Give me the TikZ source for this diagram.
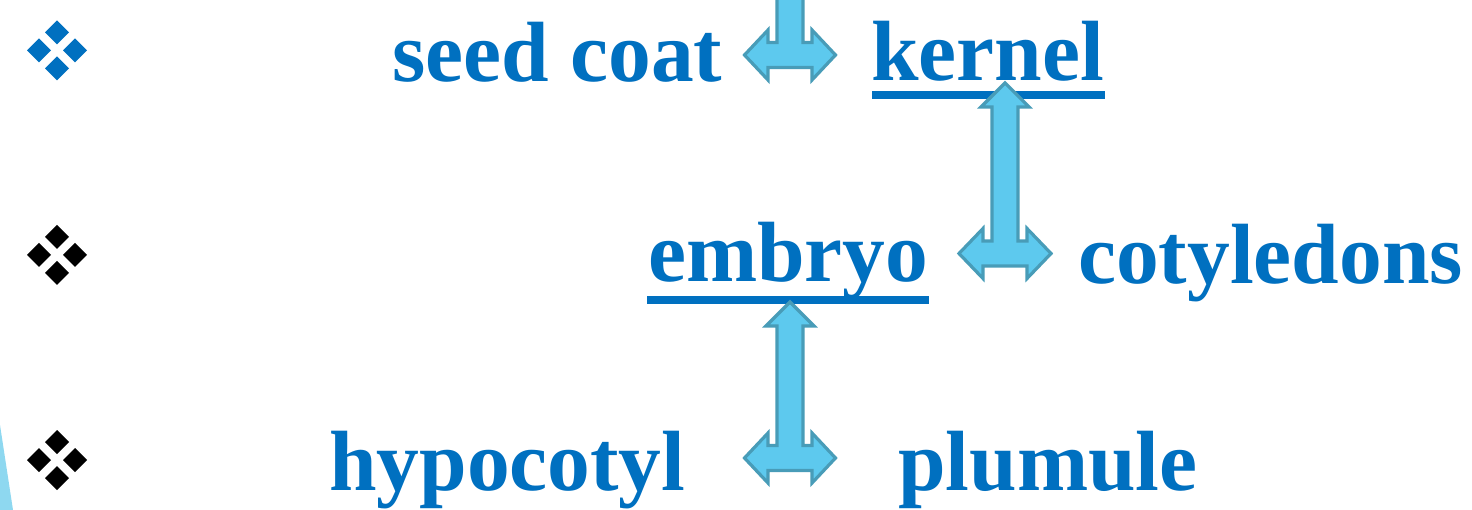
\documentclass[tikz,border=0pt]{standalone}
\usepackage{fontspec}
\setmainfont{Liberation Serif}
\definecolor{txtblue}{RGB}{0,112,192}
\definecolor{arrowfill}{RGB}{93,201,238}
\definecolor{arrowline}{RGB}{72,156,184}
\definecolor{sliver}{RGB}{142,216,240}
% up-left-right block arrow: centre x, bar centre y, tip y, side tip half width
\newcommand\ulrarrow[4]{%
  \draw[blockarrow]
    (#1,#3) -- ++(24,24) -- (#1+13,#3+24) -- (#1+13,#2-12.5)
    -- (#1+22,#2-12.5) -- (#1+22,#2-25) -- (#1+#4,#2)
    -- (#1+22,#2+25) -- (#1+22,#2+12.5) -- (#1-22,#2+12.5)
    -- (#1-22,#2+25) -- (#1-#4,#2) -- (#1-22,#2-25)
    -- (#1-22,#2-12.5) -- (#1-13,#2-12.5) -- (#1-13,#3+24)
    -- (#1-24,#3+24) -- cycle;}
% four-diamond bullet centred at (x,y)
\newcommand\diamondbullet[3]{%
  \foreach \dx/\dy in {0/-18,-18/0,18/0,0/18}
    \fill[#3] (#1+\dx,#2+\dy-12) -- ++(12,12) -- ++(-12,12) -- ++(-12,-12) -- cycle;}
\begin{document}
\begin{tikzpicture}[x=1pt,y=-1pt,
  term/.style={anchor=base west,inner sep=0pt,text=txtblue,
    font=\fontsize{85.5pt}{100pt}\selectfont\bfseries},
  blockarrow/.style={fill=arrowfill,draw=arrowline,line width=3.2pt,line join=miter}]
\useasboundingbox (0,0) rectangle (1472,510);
\clip (0,0) rectangle (1472,510);
\fill[white] (0,0) rectangle (1472,510);
% corner strip
\fill[sliver] (0,425) -- (13,510) -- (0,510) -- cycle;
% bullets
\diamondbullet{57}{50.5}{txtblue}
\diamondbullet{57}{255}{black}
\diamondbullet{57}{460}{black}
% words
\node[term] (seedcoat) at (392,82) {seed coat};
\node[term] (kernel) at (871,81) {kernel};
\node[term] (embryo) at (648,282) {embryo};
\node[term] (cotyledons) at (1078,284) {cotyledons};
\node[term] (hypocotyl) at (329,490) {hypocotyl};
\node[term] (plumule) at (898,490) {plumule};
% underlines
\fill[txtblue] ([xshift=1pt,yshift=-10pt]kernel.base west) rectangle ([xshift=1pt,yshift=-18pt]kernel.base east);
\fill[txtblue] ([xshift=-1pt,yshift=-14pt]embryo.base west) rectangle ([xshift=0pt,yshift=-22pt]embryo.base east);
% block arrows
\ulrarrow{790}{55}{-101}{45.5}
\ulrarrow{1005}{253.5}{83}{46}
\ulrarrow{790}{458}{302}{45.5}
\end{tikzpicture}
\end{document}
